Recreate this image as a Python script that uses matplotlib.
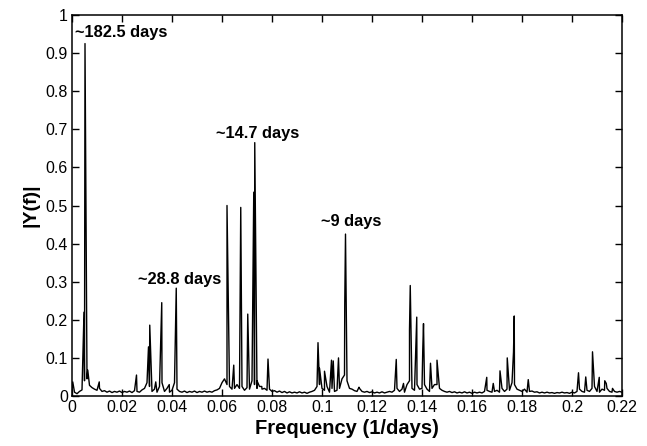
import numpy as np
import matplotlib
matplotlib.use("Agg")
import matplotlib.pyplot as plt

plt.rcParams['font.family'] = ['Liberation Sans', 'DejaVu Sans']

# Baseline spectrum values on a 0.001 (1/days) grid from 0 to 0.22
base_step = 0.001
base_vals = [
    0.015, 0.010, 0.006, 0.012, 0.016, 0.040, 0.045, 0.028, 0.022, 0.018,
    0.015, 0.020, 0.012, 0.014, 0.010, 0.013, 0.009, 0.012, 0.010, 0.013,
    0.009, 0.012, 0.010, 0.013, 0.009, 0.014, 0.012, 0.010, 0.016, 0.020,
    0.035, 0.025, 0.012, 0.018, 0.010, 0.025, 0.035, 0.012, 0.020, 0.010,
    0.015, 0.035, 0.018, 0.012, 0.010, 0.013, 0.009, 0.012, 0.010, 0.013,
    0.009, 0.012, 0.010, 0.013, 0.010, 0.012, 0.010, 0.014, 0.016, 0.020,
    0.035, 0.045, 0.030, 0.025, 0.018, 0.020, 0.030, 0.020, 0.025, 0.015,
    0.022, 0.018, 0.040, 0.030, 0.020, 0.025, 0.018, 0.020, 0.015, 0.018,
    0.012, 0.014, 0.010, 0.013, 0.009, 0.012, 0.008, 0.011, 0.008, 0.010,
    0.008, 0.011, 0.008, 0.010, 0.007, 0.010, 0.012, 0.015, 0.025, 0.030,
    0.020, 0.015, 0.025, 0.010, 0.020, 0.012, 0.015, 0.020, 0.045, 0.055,
    0.040, 0.020, 0.018, 0.014, 0.012, 0.020, 0.012, 0.010, 0.012, 0.009,
    0.011, 0.008, 0.010, 0.008, 0.011, 0.008, 0.010, 0.012, 0.010, 0.015,
    0.020, 0.012, 0.018, 0.010, 0.030, 0.040, 0.020, 0.015, 0.030, 0.018,
    0.020, 0.030, 0.018, 0.012, 0.020, 0.030, 0.030, 0.020, 0.015, 0.012,
    0.010, 0.012, 0.009, 0.011, 0.008, 0.010, 0.008, 0.011, 0.008, 0.010,
    0.007, 0.010, 0.008, 0.010, 0.008, 0.012, 0.015, 0.012, 0.010, 0.012,
    0.015, 0.010, 0.020, 0.012, 0.018, 0.015, 0.035, 0.030, 0.018, 0.015,
    0.012, 0.018, 0.010, 0.012, 0.013, 0.010, 0.011, 0.008, 0.010, 0.008,
    0.010, 0.008, 0.009, 0.007, 0.009, 0.008, 0.010, 0.008, 0.009, 0.007,
    0.010, 0.008, 0.012, 0.018, 0.012, 0.010, 0.015, 0.012, 0.020, 0.025,
    0.012, 0.010, 0.018, 0.015, 0.020, 0.012, 0.010, 0.012, 0.010, 0.012,
    0.010,
]

# Spectral peaks (frequency in 1/days, amplitude |Y(f)|)
peak_freq = [
    0.0003, 0.0048, 0.0052, 0.0055, 0.0063, 0.0109, 0.0258, 0.0306, 0.0311,
    0.0335, 0.0359, 0.0389, 0.0417, 0.0620, 0.0647, 0.0675, 0.0703, 0.0727,
    0.0731, 0.0740, 0.0759, 0.0784, 0.0984, 0.0990, 0.1010, 0.1038, 0.1045,
    0.1066, 0.1091, 0.1094, 0.1148, 0.1297, 0.1326, 0.1350, 0.1353, 0.1379,
    0.1403, 0.1406, 0.1434, 0.1460, 0.1659, 0.1685, 0.1712, 0.1741, 0.1766,
    0.1769, 0.1825, 0.2026, 0.2055, 0.2082, 0.2109, 0.2131, 0.2137, 0.2162,
]
peak_amp = [
    0.037, 0.220, 0.925, 0.600, 0.068, 0.037, 0.055, 0.129, 0.186,
    0.037, 0.245, 0.030, 0.283, 0.500, 0.081, 0.495, 0.215, 0.535,
    0.665, 0.040, 0.025, 0.097, 0.140, 0.073, 0.065, 0.094, 0.092,
    0.100, 0.240, 0.425, 0.023, 0.096, 0.033, 0.173, 0.290, 0.207,
    0.120, 0.190, 0.086, 0.094, 0.049, 0.033, 0.066, 0.100, 0.115,
    0.210, 0.043, 0.061, 0.050, 0.116, 0.049, 0.040, 0.033, 0.020,
]

annot_text = ["~182.5 days", "~28.8 days", "~14.7 days", "~9 days"]
annot_x = [0.0012, 0.0263, 0.0576, 0.0995]
annot_y = [0.942, 0.294, 0.677, 0.447]

x_ticks = [0, 0.02, 0.04, 0.06, 0.08, 0.1, 0.12, 0.14, 0.16, 0.18, 0.2, 0.22]
x_tick_labels = ["0", "0.02", "0.04", "0.06", "0.08", "0.1", "0.12", "0.14",
                 "0.16", "0.18", "0.2", "0.22"]
y_ticks = [0, 0.1, 0.2, 0.3, 0.4, 0.5, 0.6, 0.7, 0.8, 0.9, 1]
y_tick_labels = ["0", "0.1", "0.2", "0.3", "0.4", "0.5", "0.6", "0.7", "0.8",
                 "0.9", "1"]

# merge baseline and peaks into one sorted spectrum
base_freq = np.arange(len(base_vals)) * base_step
freq = np.concatenate([base_freq, np.array(peak_freq)])
amp = np.concatenate([np.array(base_vals), np.array(peak_amp)])
order = np.argsort(freq, kind="stable")
freq = freq[order]
amp = amp[order]

fig = plt.figure(figsize=(6.47, 4.46), dpi=100)
ax = fig.add_axes([72 / 647, 1 - 396 / 446, 550 / 647, 381 / 446])
ax.plot(freq, amp, color="black", lw=1.0)
ax.set_xlim(0, 0.22)
ax.set_ylim(0, 1)
ax.set_xticks(x_ticks)
ax.set_xticklabels(x_tick_labels)
ax.set_yticks(y_ticks)
ax.set_yticklabels(y_tick_labels)
ax.tick_params(direction="in", top=True, right=True, length=5, width=1,
               labelsize=11.5, pad=3)
for sp in ax.spines.values():
    sp.set_linewidth(1.1)

ax.set_xlabel("Frequency (1/days)", fontsize=14.5, fontweight="bold", labelpad=3)
ax.set_ylabel("|Y(f)|", fontsize=14, fontweight="bold", labelpad=4)

for t, x, y in zip(annot_text, annot_x, annot_y):
    ax.text(x, y, t, fontsize=11.8, fontweight="bold", ha="left", va="baseline")

fig.savefig("out.png", dpi=100)
